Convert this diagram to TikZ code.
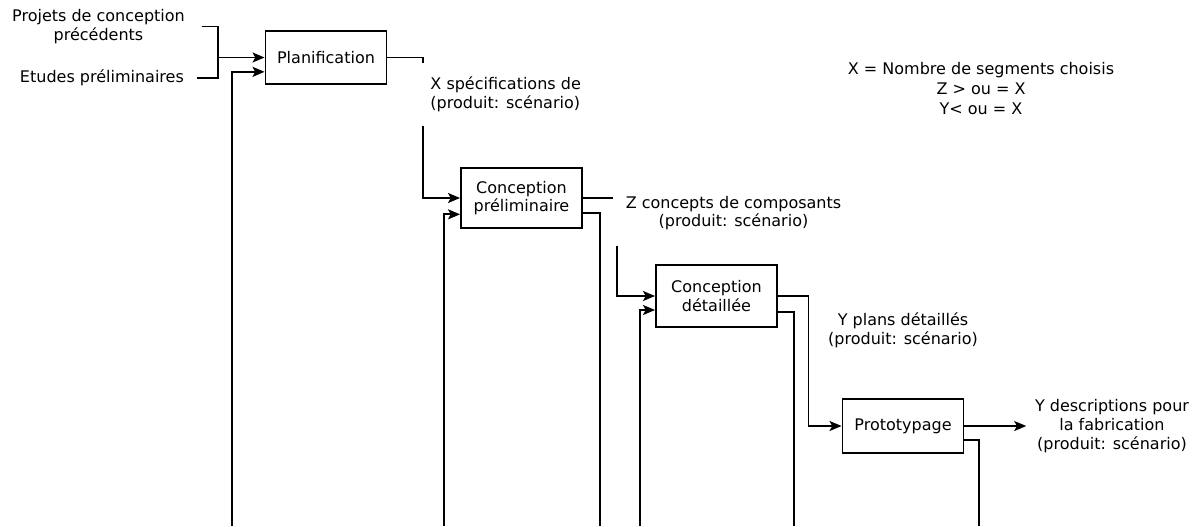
\documentclass[tikz,border=0pt]{standalone}
\usepackage{fontspec}
\setmainfont{DejaVu Sans}
\usetikzlibrary{positioning,arrows.meta}

\begin{document}
\begin{tikzpicture}[
    x=0.75pt,
    y=-0.75pt,
    font=\fontsize{12}{14}\selectfont,
    line width=1.2pt,
    box/.style={
      draw,
      align=center,
      minimum width=91pt,
      minimum height=40pt
      },
    lbl/.style={
      align=center,
      inner sep=1pt
      },
    gap/.style={
      fill=white,
      inner xsep=8pt,
      inner ysep=10.5pt
      },
    fb/.style={
      line width=1.5pt
      },
    >={Stealth[length=9pt,width=7.5pt,inset=2pt]}
    ]
    \useasboundingbox (0,0) rectangle (1203,526);
    \node[box] (plan) at (326,57.5) {Planification};
    \node[box,minimum height=45pt] (cp) at (521.5,198) {Conception\\préliminaire};
    \node[box,minimum height=46.5pt] (cd) at (716.5,296) {Conception\\détaillée};
    \node[box,minimum height=40.5pt] (proto) at (903,426) {Prototypage};

    \node[lbl] (prev) at (98.5,26.5) {Projets de conception\\précédents};
    \node[lbl,anchor=east] (etud) at (186,78) {Etudes préliminaires};
    \node[lbl] (yplan) at (903,330) {Y plans détaillés\\(produit: scénario)};
    \node[lbl] (ydesc) at (1112,426) {Y descriptions pour\\la fabrication\\(produit: scénario)};
    \node[lbl,font=\fontsize{12}{15}\selectfont] (legend) at (981,89) {X = Nombre de segments choisis\\Z > ou = X\\Y< ou = X};

    % entrees
    \coordinate (brk) at (218,57.5);
    \draw ([xshift=11pt]prev.east) -| (brk) |- ([xshift=8pt]etud.east);
    \draw[->] (brk) -- (plan.west);

    % flux principal
    \draw[->] (plan.east) -| ([xshift=-27.75pt]cp.west) -- (cp.west);
    \draw[->] (cp.east) -| ([xshift=-28.5pt]cd.west) -- (cd.west);
    \draw[->] (cd.east) -| ([xshift=-24.75pt]proto.west) -- (proto.west);
    \draw[->] (proto.east) -- ([xshift=-5pt]ydesc.west);

    % retours
    \foreach \x/\n/\s in {232/plan/10.75,444/cp/12.25,640/cd/10.5}
    {\coordinate (in-\n) at (\x,526);
      \draw[fb,->] (in-\n) |- ([yshift=-\s pt]\n.west);
    }
    \foreach \x/\n/\s in {599.5/cp/11.5,794/cd/11.75,979/proto/10.5}
    {\coordinate (out-\n) at (\x,526);
      \draw[fb] ([yshift=-\s pt]\n.east) -| (out-\n);
    }

    \node[lbl,gap,align=left,anchor=north west] (xspec) at (419,62) {X spécifications de\\(produit: scénario)};
    \node[lbl,gap,inner xsep=9.75pt,inner ysep=12pt] (zconc) at (733.5,213) {Z concepts de composants\\(produit: scénario)};
\end{tikzpicture}
\end{document}
